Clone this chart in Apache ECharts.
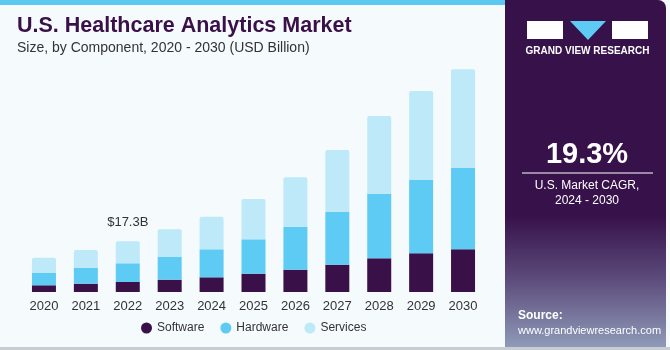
<!DOCTYPE html>
<html>
<head>
<meta charset="utf-8">
<script src="https://cdn.jsdelivr.net/npm/echarts@6/dist/echarts.min.js"></script>
<style>
  html, body { margin: 0; padding: 0; background: #f5fafd; }
  #chart { width: 670px; height: 350px; }
</style>
</head>
<body>
<div id="chart"></div>
<script>
// data (USD billion)
const years = ['2020', '2021', '2022', '2023', '2024', '2025', '2026', '2027', '2028', '2029', '2030'];
const software = [2.29, 2.83, 3.41, 4.2, 5.01, 6.24, 7.6, 9.31, 11.49, 13.2, 14.56];
const hardware = [4.3, 5.35, 6.38, 7.84, 9.55, 11.73, 14.66, 18.07, 22.03, 25.1, 27.83];
const services = [5.12, 6.14, 7.51, 9.34, 11.12, 13.74, 16.85, 21.04, 26.5, 30.25, 33.55];
const labelIndex = 2;
const labelText = '$17.3B';

const font = '"Liberation Sans", Arial, sans-serif';
const chart = echarts.init(document.getElementById('chart'));

const servicesData = services.map((v, i) => {
  if (i !== labelIndex) return v;
  return {
    value: v,
    label: {
      show: true, position: 'top', distance: 12, formatter: labelText,
      color: '#333', fontSize: 13, fontFamily: font
    }
  };
});

const option = {
  backgroundColor: '#f5fafd',
  animation: false,
  grid: { left: 23, width: 461, top: 57.4, bottom: 58 },
  xAxis: {
    type: 'category',
    data: years,
    axisLine: { show: false },
    axisTick: { show: false },
    axisLabel: { color: '#333', fontSize: 13, fontFamily: font, margin: 8 }
  },
  yAxis: { type: 'value', min: 0, max: 80, show: false },
  legend: {
    bottom: 11,
    left: 136,
    itemWidth: 11,
    itemHeight: 11,
    itemGap: 16,
    icon: 'circle',
    textStyle: { color: '#333', fontSize: 12, fontFamily: font }
  },
  series: [
    { name: 'Software', type: 'bar', stack: 't', barWidth: 24, data: software,
      itemStyle: { color: '#3a1048' } },
    { name: 'Hardware', type: 'bar', stack: 't', data: hardware,
      itemStyle: { color: '#5ecbf5' } },
    { name: 'Services', type: 'bar', stack: 't', data: servicesData,
      itemStyle: { color: '#bde9f9', borderRadius: [2, 2, 0, 0] } }
  ],
  graphic: [
    { type: 'rect', shape: { x: 0, y: 0, width: 505, height: 5 }, style: { fill: '#5bc8f0' } },
    { type: 'rect', shape: { x: 0, y: 347, width: 670, height: 3 }, style: { fill: '#c8cdd2' } },
    { type: 'text', left: 17, top: 15,
      style: { text: 'U.S. Healthcare Analytics Market', fill: '#3a1048', fontSize: 21.5, fontWeight: 'bold', fontFamily: font } },
    { type: 'text', left: 17, top: 41,
      style: { text: 'Size, by Component, 2020 - 2030 (USD Billion)', fill: '#333', fontSize: 14, fontFamily: font } },
    // right panel
    { type: 'rect', shape: { x: 505, y: 0, width: 161, height: 347, r: [0, 8, 0, 0] },
      style: { fill: new echarts.graphic.LinearGradient(0, 0, 0, 1, [
        { offset: 0, color: '#37114a' }, { offset: 0.62, color: '#37114a' },
        { offset: 0.8, color: '#5b4a7a' }, { offset: 1, color: '#8f9ab8' }]) } },
    { type: 'rect', shape: { x: 527, y: 21, width: 36, height: 18 }, style: { fill: '#fff' } },
    { type: 'polygon', shape: { points: [[570, 21], [606, 21], [588, 40]] }, style: { fill: '#5ecbf5' } },
    { type: 'rect', shape: { x: 612, y: 21, width: 36, height: 18 }, style: { fill: '#fff' } },
    { type: 'text', x: 587.5, y: 51,
      style: { text: 'GRAND VIEW RESEARCH', fill: '#fff', fontSize: 10, fontWeight: 'bold', fontFamily: font, align: 'center', verticalAlign: 'middle' } },
    { type: 'text', x: 587, y: 155,
      style: { text: '19.3%', fill: '#fff', fontSize: 29, fontWeight: 'bold', fontFamily: font, align: 'center', verticalAlign: 'middle' } },
    { type: 'rect', shape: { x: 522, y: 172.5, width: 131, height: 1 }, style: { fill: '#ffffff' } },
    { type: 'text', x: 587, y: 186,
      style: { text: 'U.S. Market CAGR,', fill: '#fff', fontSize: 12, fontFamily: font, align: 'center', verticalAlign: 'middle' } },
    { type: 'text', x: 587, y: 201,
      style: { text: '2024 - 2030', fill: '#fff', fontSize: 12, fontFamily: font, align: 'center', verticalAlign: 'middle' } },
    { type: 'text', x: 518, y: 316,
      style: { text: 'Source:', fill: '#fff', fontSize: 12, fontWeight: 'bold', fontFamily: font, verticalAlign: 'middle' } },
    { type: 'text', x: 518, y: 331,
      style: { text: 'www.grandviewresearch.com', fill: '#fff', fontSize: 11, fontFamily: font, verticalAlign: 'middle' } }
  ]
};

chart.setOption(option);
</script>
</body>
</html>
